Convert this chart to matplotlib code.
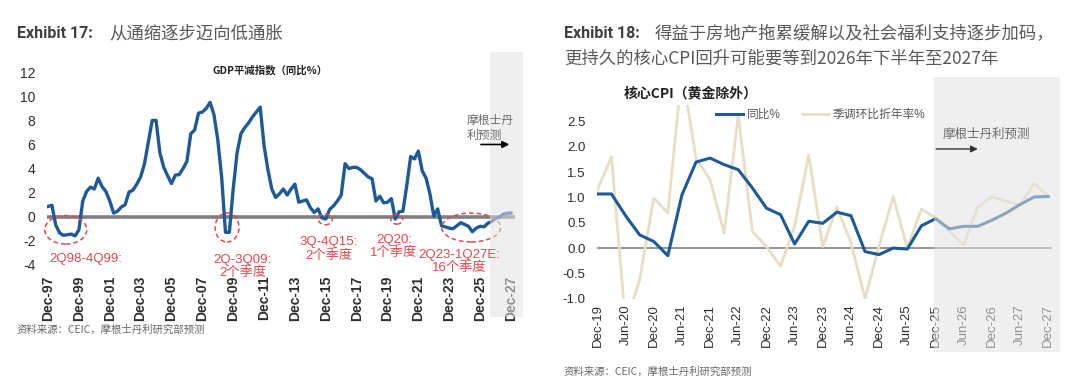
import matplotlib
matplotlib.use('Agg')
import matplotlib.pyplot as plt
import matplotlib.transforms as mtransforms
from matplotlib.patches import Ellipse, Rectangle
from matplotlib import font_manager

names = {f.name for f in font_manager.fontManager.ttflist}
NARROW = 'Liberation Sans Narrow' if 'Liberation Sans Narrow' in names else 'Liberation Sans'
CJK = 'Noto Sans CJK SC'
plt.rcParams['font.family'] = [NARROW, CJK, 'DejaVu Sans']
plt.rcParams['axes.unicode_minus'] = False

# ---------------- data ----------------
# Exhibit 17: GDP deflator YoY %, quarterly from 4Q97 to 4Q27
gdp_deflator = [
    0.85, 0.95, -0.7, -1.35, -1.55, -1.5, -1.45, -1.6, -1.1, 1.3,
    2.1, 2.45, 2.3, 3.2, 2.5, 2.1, 1.3, 0.3, 0.45, 0.8,
    1.0, 2.05, 2.2, 2.7, 3.3, 4.4, 6.2, 8.0, 8.0, 5.3,
    4.1, 3.4, 2.75, 3.45, 3.5, 4.0, 4.6, 6.9, 7.2, 8.6,
    8.7, 9.0, 9.5, 8.5, 6.4, 3.3, -1.3, -1.3, 2.3, 5.3,
    6.9, 7.4, 7.8, 8.3, 8.7, 9.1, 5.9, 3.9, 2.3, 1.6,
    1.9, 2.3, 1.8, 2.3, 2.7, 1.2, 1.3, 1.4, 0.75, 0.35,
    0.65, -0.1, -0.2, 0.6, 0.9, 1.3, 1.8, 4.4, 4.0, 4.1,
    4.1, 3.9, 3.6, 3.3, 3.15, 1.3, 1.7, 1.15, 1.2, 1.5,
    -0.2, 0.4, 0.45, 2.6, 5.0, 4.8, 5.45, 3.8, 3.2, 1.9,
    0.05, 0.65, -0.75, -0.85, -0.95, -1.0, -0.75, -0.5, -0.65, -0.8,
    -1.25, -0.95, -0.8, -0.85, -0.55, -0.4, -0.15, -0.05, 0.2, 0.28,
    0.3,
]
gdp_tick_labels = ['Dec-97', 'Dec-99', 'Dec-01', 'Dec-03', 'Dec-05', 'Dec-07',
                   'Dec-09', 'Dec-11', 'Dec-13', 'Dec-15', 'Dec-17', 'Dec-19',
                   'Dec-21', 'Dec-23', 'Dec-25', 'Dec-27']
gdp_forecast_start = 114.7   # quarter index where forecast shading begins

# Exhibit 18: core CPI (ex gold), quarterly from 4Q19 to 4Q27
core_cpi_yoy = [1.07, 1.07, 0.64, 0.26, 0.13, -0.15, 1.05, 1.70, 1.78, 1.65,
                1.55, 1.19, 0.79, 0.66, 0.08, 0.53, 0.49, 0.71, 0.64, -0.07,
                -0.13, 0.0, -0.02, 0.44, 0.58, 0.38, 0.43, 0.43, 0.55, 0.69,
                0.86, 1.01, 1.02]
core_cpi_saar = [1.15, 1.81, -1.5, -0.63, 0.99, 0.69, 3.5, 1.78, 1.35, 0.30,
                 2.63, 0.33, 0.03, -0.36, 0.43, 1.84, 0.03, 0.81, 0.10, -1.0,
                 0.05, 1.02, 0.0, 0.77, 0.60, 0.33, 0.06, 0.81, 1.02, 0.93,
                 0.85, 1.28, 1.02]
cpi_tick_labels = ['Dec-19', 'Jun-20', 'Dec-20', 'Jun-21', 'Dec-21', 'Jun-22',
                   'Dec-22', 'Jun-23', 'Dec-23', 'Jun-24', 'Dec-24', 'Jun-25',
                   'Dec-25', 'Jun-26', 'Dec-26', 'Jun-27', 'Dec-27']
cpi_forecast_start = 23.9
series_names = ['同比%', '季调环比折年率%']

# ---------------- styles ----------------
BLUE = '#1d5a96'
TAN = '#e6dfc3'
RED = '#e3484d'
GRAY_TXT = '#595959'
TICK_TXT = '#2e2e2e'
SHADE = '#e3e3e3'

W, H = 1080, 384
fig = plt.figure(figsize=(W / 100, H / 100), dpi=100)
fig.patch.set_facecolor('white')


def fx(px):
    return px / W


def fy(py):
    return 1 - py / H


# ---------------- titles ----------------
fig.text(fx(17), fy(33), 'Exhibit 17:', fontsize=11.5, fontweight='bold',
         color='#404040', family=['Roboto', CJK], va='center', ha='left')
fig.text(fx(109), fy(33), '从通缩逐步迈向低通胀', fontsize=12.5,
         color=GRAY_TXT, family=[CJK], va='center', ha='left')
fig.text(fx(564), fy(33), 'Exhibit 18:', fontsize=11.5, fontweight='bold',
         color='#404040', family=['Roboto', CJK], va='center', ha='left')
fig.text(fx(655), fy(33), '得益于房地产拖累缓解以及社会福利支持逐步加码，', fontsize=12.5,
         color=GRAY_TXT, family=[CJK], va='center', ha='left')
fig.text(fx(564), fy(59), '更持久的核心CPI回升可能要等到2026年下半年至2027年', fontsize=12.5,
         color=GRAY_TXT, family=[CJK, 'Roboto'], va='center', ha='left')

fig.text(fx(17), fy(330), '资料来源：CEIC，摩根士丹利研究部预测', fontsize=7.5,
         color='#666666', family=[CJK], va='center', ha='left')
fig.text(fx(564), fy(372), '资料来源：CEIC，摩根士丹利研究部预测', fontsize=7.5,
         color='#666666', family=[CJK], va='center', ha='left')

# ---------------- left chart ----------------
ax1 = fig.add_axes([fx(46.5), fy(268.4), fx(514.8) - fx(46.5), fy(68.7) - fy(268.4)])
q1 = list(range(len(gdp_deflator)))
ax1.plot(q1, gdp_deflator, color=BLUE, lw=2.4, zorder=3, solid_joinstyle='round')
ax1.axhline(0, color='#7f7f7f', lw=2.6, zorder=2)
ax1.set_xlim(-0.4, 121)
ax1.set_ylim(-4.3, 12.3)
ax1.set_yticks(range(-4, 13, 2))
ax1.set_xticks(range(0, len(gdp_deflator), 8))
ax1.set_xticklabels(gdp_tick_labels, rotation=90, fontweight='bold')
ax1.tick_params(axis='both', length=0, labelsize=10, colors=TICK_TXT)
ax1.tick_params(axis='y', pad=8)
ax1.tick_params(axis='x', pad=5)
for s in ax1.spines.values():
    s.set_visible(False)

ax1.text(57.5, 12.2, 'GDP平减指数（同比%）', fontsize=7.5, fontweight='bold',
         family=[CJK], color='#222222', ha='center', va='center')

ell_kw = dict(fill=False, edgecolor=RED, lw=1.1, linestyle=(0, (3, 2)), zorder=4, clip_on=False)
ax1.add_patch(Ellipse((4.6, -1.09), 10.9, 2.37, **ell_kw))
ax1.add_patch(Ellipse((46.4, -0.9), 6.2, 2.4, **ell_kw))
ax1.add_patch(Ellipse((71.9, -0.22), 3.6, 0.91, **ell_kw))
ax1.add_patch(Ellipse((90.4, -0.22), 3.1, 0.8, **ell_kw))
ax1.add_patch(Ellipse((109.7, -0.9), 15.3, 2.4, **ell_kw))

ann_kw = dict(color=RED, fontsize=9.5, ha='center', va='center', linespacing=1.05,
              clip_on=False, zorder=6)
ax1.text(9.8, -3.5, '2Q98-4Q99:', **ann_kw)
ax1.text(50.5, -4.15, '2Q-3Q09:\n2个季度', **ann_kw)
ax1.text(72.8, -2.69, '3Q-4Q15:\n2个季度', **ann_kw)
ax1.text(89.7, -2.5, '2Q20:\n1个季度', **ann_kw)
ax1.text(106.7, -3.74, '2Q23-1Q27E:\n16个季度', **ann_kw)

trans1 = mtransforms.blended_transform_factory(ax1.transData, ax1.transAxes)
ax1.add_patch(Rectangle((gdp_forecast_start, -0.245), 123.2 - gdp_forecast_start, 1.33,
                        transform=trans1, facecolor=SHADE, edgecolor='none',
                        alpha=0.55, zorder=5, clip_on=False))
ax1.text(108.5, 7.4, '摩根士丹\n利预测', fontsize=8.5, family=[CJK], color='#6b6b6b',
         ha='left', va='center', linespacing=1.2, zorder=6)
ax1.annotate('', xy=(120.3, 6.0), xytext=(111.5, 6.0),
             arrowprops=dict(arrowstyle='-|>', color='black', lw=1.2, mutation_scale=10),
             zorder=6, annotation_clip=False)

# ---------------- right chart ----------------
ax2 = fig.add_axes([fx(596.7), fy(298.6), fx(1051.7) - fx(596.7), fy(105) - fy(298.6)])
q2 = list(range(len(core_cpi_yoy)))
l_saar, = ax2.plot(q2, core_cpi_saar, color=TAN, lw=2.0, zorder=3, label=series_names[1])
l_yoy, = ax2.plot(q2, core_cpi_yoy, color=BLUE, lw=2.2, zorder=4, label=series_names[0])
ax2.axhline(0, color='#808080', lw=1.2, zorder=2)
ax2.set_xlim(-0.05, 32.25)
ax2.set_ylim(-1.0, 2.83)
ax2.set_yticks([-1.0, -0.5, 0.0, 0.5, 1.0, 1.5, 2.0, 2.5])
ax2.set_yticklabels(['%.1f' % v for v in [-1.0, -0.5, 0.0, 0.5, 1.0, 1.5, 2.0, 2.5]])
ax2.set_xticks(range(0, len(core_cpi_yoy), 2))
ax2.set_xticklabels(cpi_tick_labels, rotation=90)
ax2.tick_params(axis='both', length=0, labelsize=9.5, colors=TICK_TXT)
ax2.tick_params(axis='y', pad=8)
ax2.tick_params(axis='x', pad=4)
for s in ax2.spines.values():
    s.set_visible(False)

leg = ax2.legend(handles=[l_yoy, l_saar], ncol=2, frameon=False, loc='center left',
                 bbox_to_anchor=(0.262, 0.95), borderpad=0, borderaxespad=0,
                 handlelength=2.3, handletextpad=0.3, columnspacing=1.8,
                 prop={'family': [NARROW, CJK], 'size': 8.5})
for t in leg.get_texts():
    t.set_color(GRAY_TXT)

fig.text(fx(624), fy(93), '核心CPI（黄金除外）', fontsize=10, fontweight='bold',
         family=[CJK], color='#222222', ha='left', va='center')

trans2 = mtransforms.blended_transform_factory(ax2.transData, ax2.transAxes)
ax2.add_patch(Rectangle((cpi_forecast_start, -0.276), 32.84 - cpi_forecast_start, 1.421,
                        transform=trans2, facecolor=SHADE, edgecolor='none',
                        alpha=0.55, zorder=5, clip_on=False))
ax2.text(24.5, 2.24, '摩根士丹利预测', fontsize=9, family=[CJK], color='#6b6b6b',
         ha='left', va='center', zorder=6)
ax2.annotate('', xy=(27.2, 1.96), xytext=(23.85, 1.96),
             arrowprops=dict(arrowstyle='-|>', color='#333333', lw=1.0, mutation_scale=10),
             zorder=6, annotation_clip=False)

fig.savefig('out.png', dpi=100, facecolor='white')
